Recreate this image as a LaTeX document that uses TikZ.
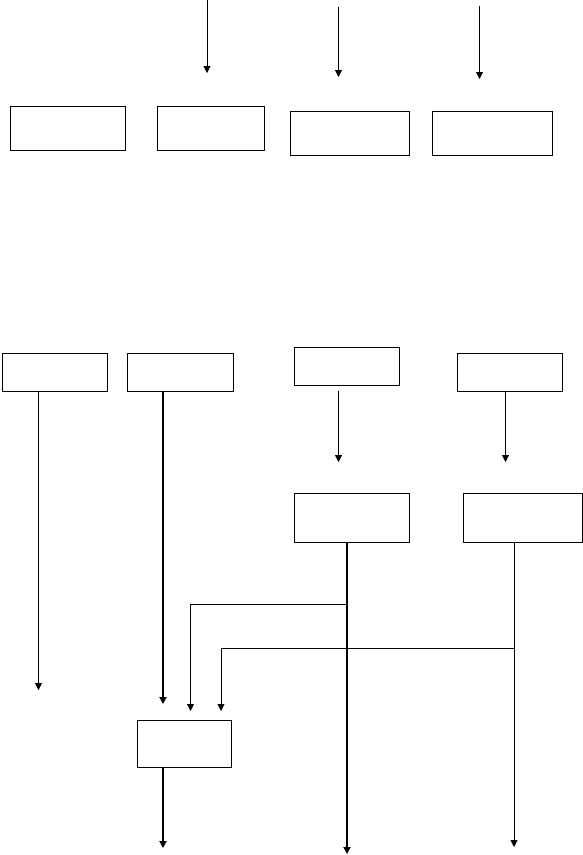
\documentclass[tikz,border=0pt]{standalone}
\usetikzlibrary{arrows.meta}

\begin{document}
\begin{tikzpicture}[x=1pt, y=-1pt,
  box/.style={draw, line width=0.9pt, inner sep=0pt, anchor=north west},
  arr/.style={-{Triangle[length=7pt,width=7pt]}, line width=0.8pt},
  thickarr/.style={arr, line width=2pt}
]
\useasboundingbox (0,0) rectangle (583,855);

% top row
\node[box, minimum width=115pt, minimum height=44pt] (inA) at (9.5,106) {};
\node[box, minimum width=107pt, minimum height=44pt] (inB) at (156.5,106) {};
\node[box, minimum width=119pt, minimum height=44pt] (inC) at (289.5,111) {};
\node[box, minimum width=120pt, minimum height=44pt] (inD) at (431.5,111) {};

% middle row
\node[box, minimum width=105pt, minimum height=38pt] (midE) at (1.5,353) {};
\node[box, minimum width=106pt, minimum height=38pt] (midF) at (126.5,353) {};
\node[box, minimum width=105pt, minimum height=38pt] (midG) at (293.5,347) {};
\node[box, minimum width=105pt, minimum height=38pt] (midH) at (456.5,353) {};
\node[box, minimum width=115pt, minimum height=49pt] (lowI) at (293.5,493) {};
\node[box, minimum width=119pt, minimum height=49pt] (lowJ) at (462.5,493) {};
\node[box, minimum width=94pt, minimum height=47pt] (sumK) at (136.5,720) {};

% free ends
\coordinate (srcB) at (207,0);   \coordinate (tipB) at (207,73);
\coordinate (srcC) at (338.5,7); \coordinate (tipC) at (338.5,77);
\coordinate (srcD) at (479.5,6); \coordinate (tipD) at (479.5,79);
\coordinate (tipE) at (38.5,690);
\coordinate (tipF) at (163,704);
\coordinate (outG) at (338.5,391); \coordinate (tipG) at (338.5,462);
\coordinate (tipH) at (505.5,462);
\coordinate (tipI) at (347,854);
\coordinate (tipJ) at (514,847);
\coordinate (brI) at (347,604);  \coordinate (tipK1) at (190.5,711);
\coordinate (brJ) at (514,648);  \coordinate (tipK2) at (221,711);
\coordinate (tipK) at (163,848);

\draw[arr] (srcB) -- (tipB);
\draw[arr] (srcC) -- (tipC);
\draw[arr] (srcD) -- (tipD);

\draw[arr] (midE.south -| tipE) -- (tipE);
\draw[thickarr] (midF.south -| tipF) -- (tipF);
\draw[arr] (outG) -- (tipG);
\draw[arr] (midH.south -| tipH) -- (tipH);

\draw[thickarr] (lowI.south -| tipI) -- (tipI);
\draw[arr] (lowJ.south -| tipJ) -- (tipJ);
\draw[arr] (brI) -| (tipK1);
\draw[arr] (brJ) -| (tipK2);

\draw[thickarr] (sumK.south -| tipK) -- (tipK);
\end{tikzpicture}
\end{document}
